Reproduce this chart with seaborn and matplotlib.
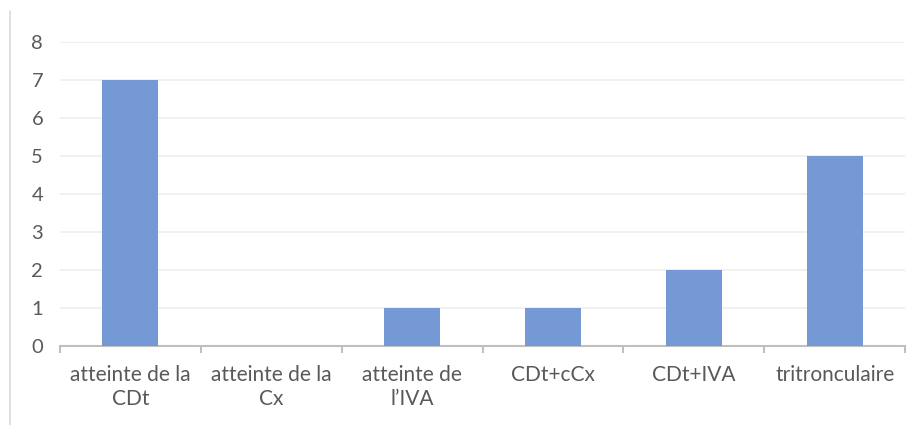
import matplotlib
matplotlib.use("Agg")
import matplotlib.pyplot as plt
from matplotlib.lines import Line2D
from matplotlib.ticker import FixedLocator
import seaborn as sns
import pandas as pd

categories = ["atteinte de la\nCDt", "atteinte de la\nCx", "atteinte de\nl\u2019IVA",
              "CDt+cCx", "CDt+IVA", "tritronculaire"]
counts = [7, 0, 1, 1, 2, 5]
y_ticks = [0, 1, 2, 3, 4, 5, 6, 7, 8]

df = pd.DataFrame({"lesion": categories, "n": counts})

sns.set_theme(style="white")
plt.rcParams["font.family"] = ["Lato", "DejaVu Sans"]

text_color = "#595959"
fig = plt.figure(figsize=(9.2, 4.25), dpi=100)
ax = fig.add_axes([0.065, 0.186, 0.919, 0.715])

sns.barplot(data=df, x="lesion", y="n", color="#7499D4", width=0.4,
            saturation=1, linewidth=0, ax=ax, zorder=3)

ax.set_ylim(0, 8)
ax.set_xlim(-0.5, len(categories) - 0.5)
ax.set_yticks(y_ticks)
ax.yaxis.grid(True, color="#EDEDED", linewidth=1.2, zorder=0)
ax.set_axisbelow(True)
ax.set_xlabel("")
ax.set_ylabel("")

for side in ["top", "right", "left"]:
    ax.spines[side].set_visible(False)
ax.spines["bottom"].set_color("#BFBFBF")
ax.spines["bottom"].set_linewidth(1.5)

ax.tick_params(axis="x", which="major", length=0, pad=14,
               labelsize=15, labelcolor=text_color)
ax.xaxis.set_minor_locator(FixedLocator([i - 0.5 for i in range(len(categories) + 1)]))
ax.tick_params(axis="x", which="minor", length=5, width=1.5, color="#BFBFBF", bottom=True)
ax.tick_params(axis="y", length=0, pad=12, labelsize=14.5, labelcolor=text_color)
for lbl in ax.get_xticklabels():
    lbl.set_linespacing(1.2)

# thin frame edge on the left
fig.add_artist(Line2D([0.011, 0.011], [0.0, 0.975], color="#D9D9D9", linewidth=1.2))

fig.savefig("out.png", dpi=100, facecolor="white")
